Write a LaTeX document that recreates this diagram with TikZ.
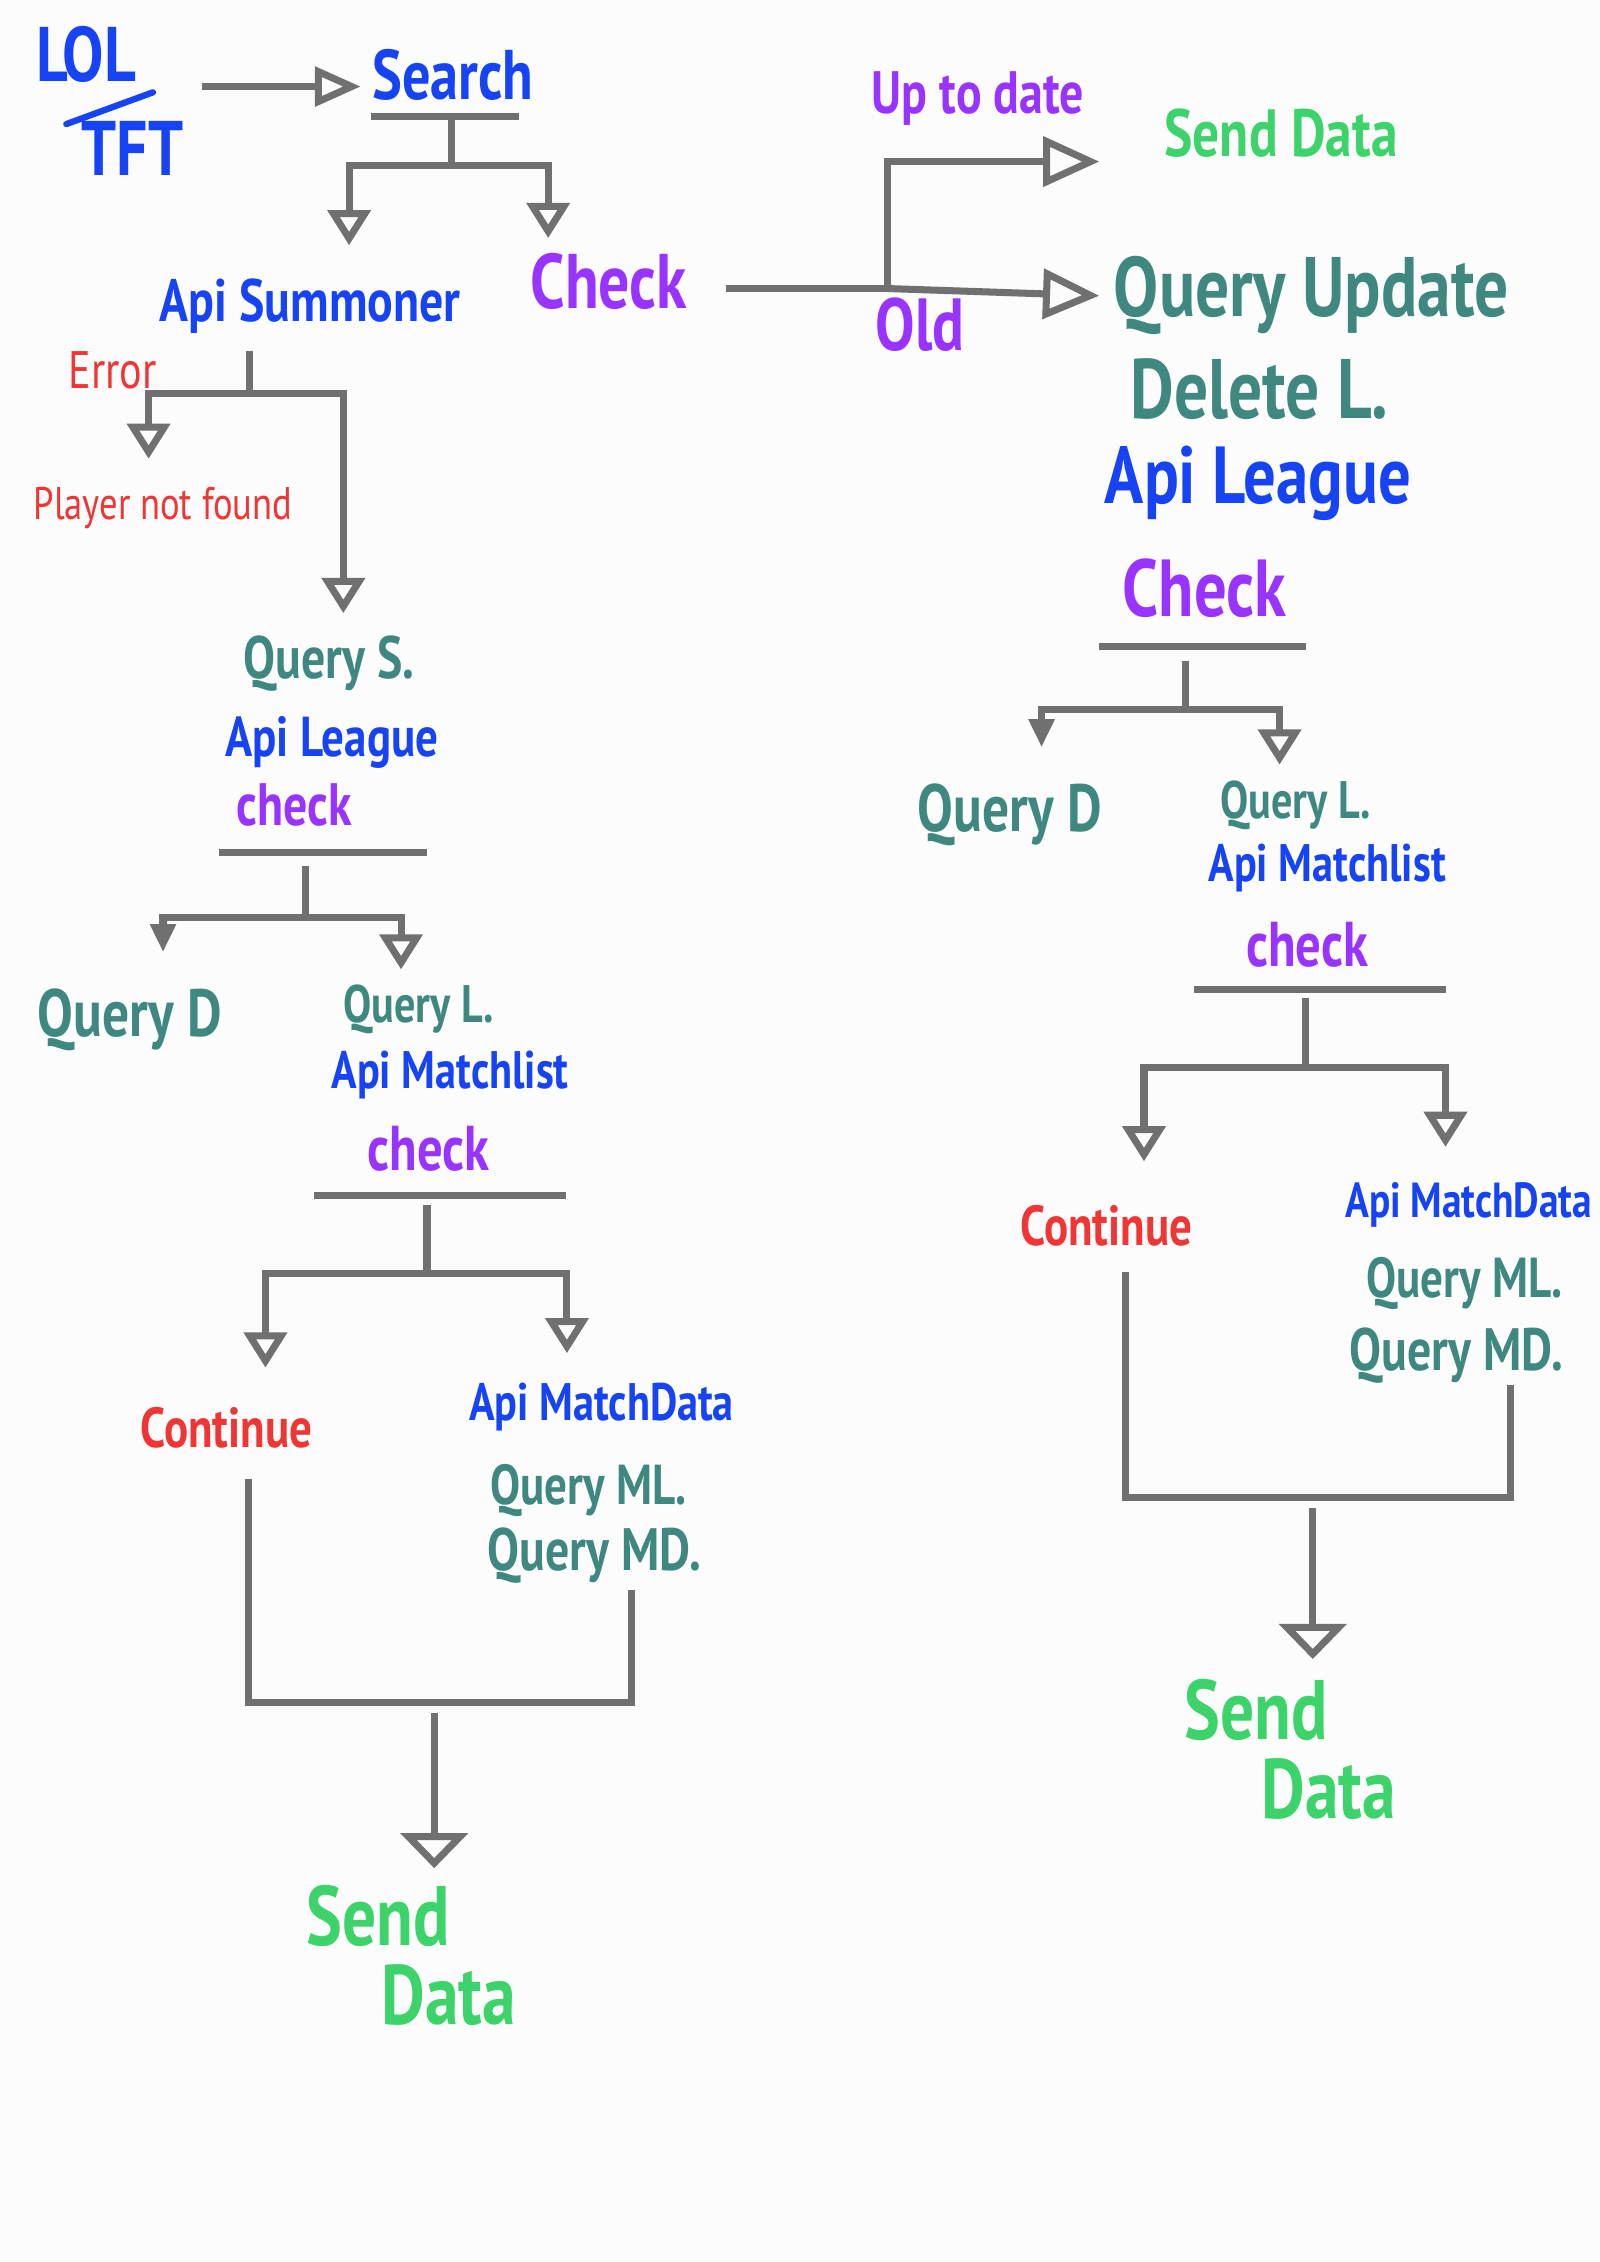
\documentclass[tikz,border=0pt]{standalone}
\usepackage{fontspec}
\newfontfamily\handfont{PT Sans}[FakeStretch=0.8]
\usetikzlibrary{arrows.meta}
\definecolor{blueInk}{HTML}{1644F5}
\definecolor{purpleInk}{HTML}{9933FF}
\definecolor{tealInk}{HTML}{3F8880}
\definecolor{greenInk}{HTML}{3CD36A}
\definecolor{redInk}{HTML}{F03535}
\definecolor{lineGray}{HTML}{707070}
\definecolor{paper}{HTML}{FCFCFC}
\newcommand\handsz[1]{\handfont\bfseries\fontsize{#1}{#1}\selectfont}
\newcommand\thinsz[1]{\handfont\fontsize{#1}{#1}\selectfont}

\begin{document}
\begin{tikzpicture}[x=0.014427cm,y=-0.014427cm,
 txt/.style={inner sep=0pt},
 bl/.style={txt,text=blueInk},
 pu/.style={txt,text=purpleInk},
 tl/.style={txt,text=tealInk},
 gr/.style={txt,text=greenInk},
 rd/.style={txt,text=redInk},
 link/.style={draw=lineGray,line width=2pt},
 hollow/.style={link,-{Triangle[open,length=10pt,width=12pt]}},
 sidetip/.style={link,-{Triangle[open,length=13pt,width=11pt]}},
 bigtip/.style={link,-{Triangle[open,length=16pt,width=14pt]}},
 sendtip/.style={link,shorten <=3pt,-{Triangle[open,length=10pt,width=19pt]}},
 dark/.style={link,-{Triangle[length=8pt,width=7pt,fill=lineGray]}}]
 \fill[paper] (0,0) rectangle (1109,1568);
 \useasboundingbox (0,0) rectangle (1109,1568);

 \node[bl,font=\handsz{22}] (lol) at (60,38) {LOL};
 \node[bl,font=\handsz{22}] (tft) at (92,103) {TFT};
 \draw[blueInk,line width=1.8pt,line cap=round] (46,86) -- (106,64);
 \node[bl,font=\handsz{20}] (search) at (314,52) {Search};
 \node[bl,font=\handsz{17}] (apiS) at (215,212) {Api Summoner};
 \node[pu,font=\handsz{22}] (chk) at (422,195) {Check};
 \node[pu,font=\handsz{17}] (upd) at (678,68) {Up to date};
 \node[gr,font=\handsz{19}] (sendA) at (888,92) {Send Data};
 \node[pu,font=\handsz{21}] (old) at (638,225) {Old};
 \node[tl,font=\handsz{24}] (qUpd) at (909,205) {Query Update};
 \node[tl,font=\handsz{24}] (delL) at (873,270) {Delete L.};
 \node[bl,font=\handsz{23}] (apiL2) at (872,335) {Api League};
 \node[pu,font=\handsz{23}] (chk2) at (835,408) {Check};
 \node[tl,font=\handsz{19}] (qD2) at (700,565) {Query D};
 \node[tl,font=\handsz{15}] (qL2) at (898,558) {Query L.};
 \node[bl,font=\handsz{15}] (apiM2) at (920,602) {Api Matchlist};
 \node[pu,font=\handsz{18}] (chk4) at (906,655) {check};
 \node[rd,font=\handsz{16}] (cont2) at (767,850) {Continue};
 \node[bl,font=\handsz{14},anchor=west] (apiD2) at (932,835) {Api MatchData};
 \node[tl,font=\handsz{16}] (qML2) at (1015,890) {Query ML.};
 \node[tl,font=\handsz{17},anchor=west] (qMD2) at (935,940) {Query MD.};
 \node[gr,font=\handsz{24}] (sendC) at (871,1185) {Send};
 \node[gr,font=\handsz{24}] (dataC) at (921,1240) {Data};

 \node[rd,font=\thinsz{15}] (err) at (78,257) {Error};
 \node[rd,font=\thinsz{13}] (pnf) at (113,352) {Player not found};
 \node[tl,font=\handsz{17}] (qS) at (228,460) {Query S.};
 \node[bl,font=\handsz{16}] (apiL) at (230,515) {Api League};
 \node[pu,font=\handsz{17}] (chk1) at (204,558) {check};
 \node[tl,font=\handsz{19}] (qD) at (90,707) {Query D};
 \node[tl,font=\handsz{15}] (qL) at (290,700) {Query L.};
 \node[bl,font=\handsz{15}] (apiM) at (312,745) {Api Matchlist};
 \node[pu,font=\handsz{18}] (chk3) at (297,796) {check};
 \node[rd,font=\handsz{16}] (cont) at (157,990) {Continue};
 \node[bl,font=\handsz{15}] (apiD) at (417,975) {Api MatchData};
 \node[tl,font=\handsz{16}] (qML) at (408,1033) {Query ML.};
 \node[tl,font=\handsz{17}] (qMD) at (412,1078) {Query MD.};
 \node[gr,font=\handsz{24}] (sendB) at (262,1328) {Send};
 \node[gr,font=\handsz{24}] (dataB) at (311,1383) {Data};

 \coordinate (gameOut) at (140,60);
 \coordinate (searchIn) at (250,60);
 \draw[sidetip] (gameOut) -- (searchIn);
 \draw[link] (257,81) -- (360,81);
 \coordinate (fkA) at (313,83);
 \coordinate (apiSIn) at (242,170);
 \coordinate (chkIn) at (380,165);
 \draw[hollow] (fkA) -- ++(0,32) -| (apiSIn);
 \draw[hollow] (fkA) -- ++(0,32) -| (chkIn);

 \coordinate (chkOut) at (503,200);
 \coordinate (fkB) at (615,200);
 \coordinate (updIn) at (762,112);
 \coordinate (qUpdIn) at (762,205);
 \draw[link] (chkOut) -- (fkB);
 \draw[bigtip] (fkB) |- (updIn);
 \draw[bigtip] (fkB) -- (qUpdIn);

 \draw[link] (762,448) -- (905,448);
 \coordinate (fkC) at (822,458);
 \coordinate (qD2In) at (722,518);
 \coordinate (qL2In) at (887,530);
 \draw[dark] (fkC) -- ++(0,34) -| (qD2In);
 \draw[hollow] (fkC) -- ++(0,34) -| (qL2In);

 \draw[link] (828,686) -- (1002,686);
 \coordinate (fkD) at (905,692);
 \coordinate (cont2In) at (793,805);
 \coordinate (apiD2In) at (1002,795);
 \draw[hollow] (fkD) -- ++(0,48) -| (cont2In);
 \draw[hollow] (fkD) -- ++(0,48) -| (apiD2In);

 \coordinate (cont2Out) at (780,882);
 \coordinate (qMD2Out) at (1047,960);
 \coordinate (jnR) at (910,1038);
 \coordinate (sendCIn) at (910,1150);
 \draw[link] (cont2Out) |- (jnR) -| (qMD2Out);
 \draw[sendtip] (jnR) -- (sendCIn);

 \coordinate (fkE) at (173,243);
 \coordinate (pnfIn) at (103,318);
 \coordinate (qSIn) at (238,425);
 \draw[hollow] (fkE) -- ++(0,30) -| (pnfIn);
 \draw[hollow] (fkE) -- ++(0,30) -| (qSIn);

 \draw[link] (152,591) -- (296,591);
 \coordinate (fkF) at (212,600);
 \coordinate (qDIn) at (113,660);
 \coordinate (qLIn) at (278,672);
 \draw[dark] (fkF) -- ++(0,36) -| (qDIn);
 \draw[hollow] (fkF) -- ++(0,36) -| (qLIn);

 \draw[link] (218,829) -- (392,829);
 \coordinate (fkG) at (296,835);
 \coordinate (contIn) at (184,948);
 \coordinate (apiDIn) at (393,938);
 \draw[hollow] (fkG) -- ++(0,48) -| (contIn);
 \draw[hollow] (fkG) -- ++(0,48) -| (apiDIn);

 \coordinate (contOut) at (172,1025);
 \coordinate (qMDOut) at (438,1102);
 \coordinate (jnL) at (301,1180);
 \coordinate (sendBIn) at (301,1295);
 \draw[link] (contOut) |- (jnL) -| (qMDOut);
 \draw[sendtip] (jnL) -- (sendBIn);
\end{tikzpicture}
\end{document}
